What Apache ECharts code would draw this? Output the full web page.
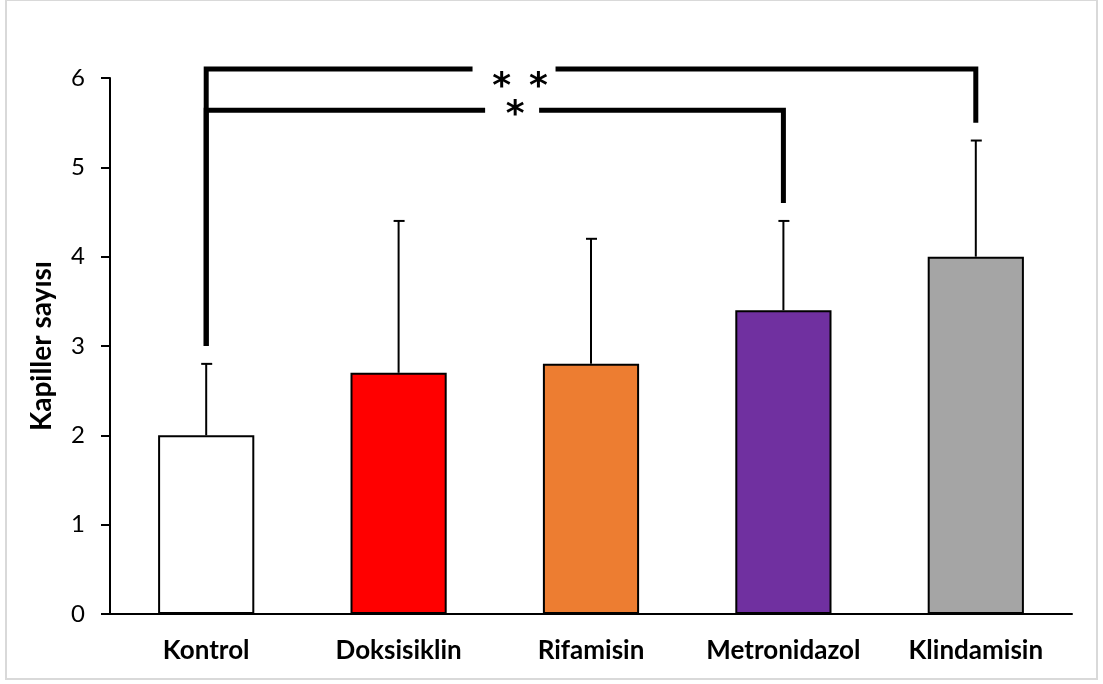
<!DOCTYPE html>
<html lang="tr">
<head>
    <meta charset="utf-8">
    <title>Kapiller sayısı</title>
    <script src="https://cdn.jsdelivr.net/npm/echarts@6/dist/echarts.min.js"></script>
    <style>
        html, body { margin: 0; padding: 0; background: #fff; }
        #chart { width: 1103px; height: 684px; }
    </style>
</head>
<body>
    <div id="chart"></div>
    <script type="text/javascript">
        // veri
        var categories = ["Kontrol", "Doksisiklin", "Rifamisin", "Metronidazol", "Klindamisin"];
        var means = [2.0, 2.7, 2.8, 3.4, 4.0];
        var upperErr = [2.8, 4.4, 4.2, 4.4, 5.3];
        var barColors = ["#FFFFFF", "#FF0000", "#ED7D31", "#7030A0", "#A5A5A5"];
        var yTicks = [0, 1, 2, 3, 4, 5, 6];
        // anlamlılık çizgileri: [baş, son, üst, sol uç, sağ uç]
        var bracketFrom = [0, 0];
        var bracketTo = [4, 3];
        var bracketTop = [6.1, 5.64];
        var bracketLeftEnd = [3.0, 3.0];
        var bracketRightEnd = [5.5, 4.6];
        var bracketLabels = ["*\u2002*", "*"];
        var bracketLabelAt = [1.6, 1.59];   // kategori ekseninde boşluk konumu

        var fontFamily = "Lato, 'Open Sans', sans-serif";
        var gapWidth = [83, 54];
        var labelDx = [6, 3];
        var labelDy = [19, 5];

        var chart = echarts.init(document.getElementById("chart"));

        function catX(api, pos, y) {
            var i = Math.floor(pos);
            var a = api.coord([i, y]);
            var b = api.coord([Math.min(i + 1, categories.length - 1), y]);
            return a[0] + (b[0] - a[0]) * (pos - i);
        }

        var option = {
            backgroundColor: "#fff",
            animation: false,
            graphic: [{
                type: "rect",
                shape: { x: 6, y: 0, width: 1091, height: 679 },
                style: { fill: "none", stroke: "#d9d9d9", lineWidth: 2 },
                silent: true
            }],
            grid: { left: 110, right: 31, top: 78, bottom: 70, containLabel: false },
            xAxis: {
                type: "category",
                data: categories,
                boundaryGap: true,
                axisLine: { show: true, lineStyle: { color: "#000", width: 2 } },
                axisTick: { show: false },
                axisLabel: {
                    interval: 0,
                    margin: 24,
                    color: "#000",
                    fontSize: 26,
                    fontWeight: "bold",
                    fontFamily: fontFamily
                }
            },
            yAxis: {
                type: "value",
                min: yTicks[0],
                max: yTicks[yTicks.length - 1],
                interval: 1,
                name: "Kapiller sayısı",
                nameLocation: "middle",
                nameRotate: 90,
                nameGap: 54,
                nameTextStyle: { color: "#000", fontSize: 28, fontWeight: "bold", fontFamily: fontFamily },
                splitLine: { show: false },
                axisLine: { show: true, lineStyle: { color: "#000", width: 2 } },
                axisTick: { show: true, inside: false, length: 9, lineStyle: { color: "#000", width: 2 } },
                axisLabel: { margin: 25, color: "#000", fontSize: 24, fontFamily: fontFamily }
            },
            series: [
                {
                    type: "bar",
                    barWidth: "50%",
                    data: means.map(function (v, i) {
                        return { value: v, itemStyle: { color: barColors[i] } };
                    }),
                    itemStyle: { borderColor: "#000", borderWidth: 2 },
                    z: 2
                },
                {
                    // hata çubukları
                    type: "custom",
                    data: means.map(function (v, i) { return [i, v, upperErr[i]]; }),
                    renderItem: function (params, api) {
                        var p0 = api.coord([api.value(0), api.value(1)]);
                        var p1 = api.coord([api.value(0), api.value(2)]);
                        var st = { stroke: "#000", lineWidth: 2 };
                        return {
                            type: "group",
                            children: [
                                { type: "line", shape: { x1: p0[0], y1: p0[1], x2: p1[0], y2: p1[1] }, style: st },
                                { type: "line", shape: { x1: p1[0] - 5, y1: p1[1], x2: p1[0] + 6, y2: p1[1] }, style: st }
                            ]
                        };
                    },
                    z: 3
                },
                {
                    // anlamlılık çizgileri
                    type: "custom",
                    data: bracketFrom.map(function (f, i) {
                        return [f, bracketTo[i], bracketTop[i], bracketLeftEnd[i], bracketRightEnd[i], bracketLabelAt[i]];
                    }),
                    renderItem: function (params, api) {
                        var k = params.dataIndex;
                        var pl = api.coord([api.value(0), api.value(3)]);
                        var tl = api.coord([api.value(0), api.value(2)]);
                        var tr = api.coord([api.value(1), api.value(2)]);
                        var pr = api.coord([api.value(1), api.value(4)]);
                        var cx = catX(api, api.value(5), api.value(2));
                        var g = gapWidth[k] / 2;
                        var st = { stroke: "#000", lineWidth: 5, fill: "none", lineJoin: "miter" };
                        return {
                            type: "group",
                            children: [
                                { type: "polyline", shape: { points: [pl, tl, [cx - g, tl[1]]] }, style: st },
                                { type: "polyline", shape: { points: [[cx + g, tr[1]], tr, pr] }, style: st },
                                {
                                    type: "text",
                                    style: {
                                        text: bracketLabels[k],
                                        x: cx + labelDx[k],
                                        y: tl[1] + labelDy[k],
                                        align: "center",
                                        verticalAlign: "middle",
                                        fill: "#000",
                                        font: "bold 36px 'DejaVu Sans'"
                                    }
                                }
                            ]
                        };
                    },
                    z: 4
                }
            ]
        };
        chart.setOption(option);
    </script>
</body>
</html>
